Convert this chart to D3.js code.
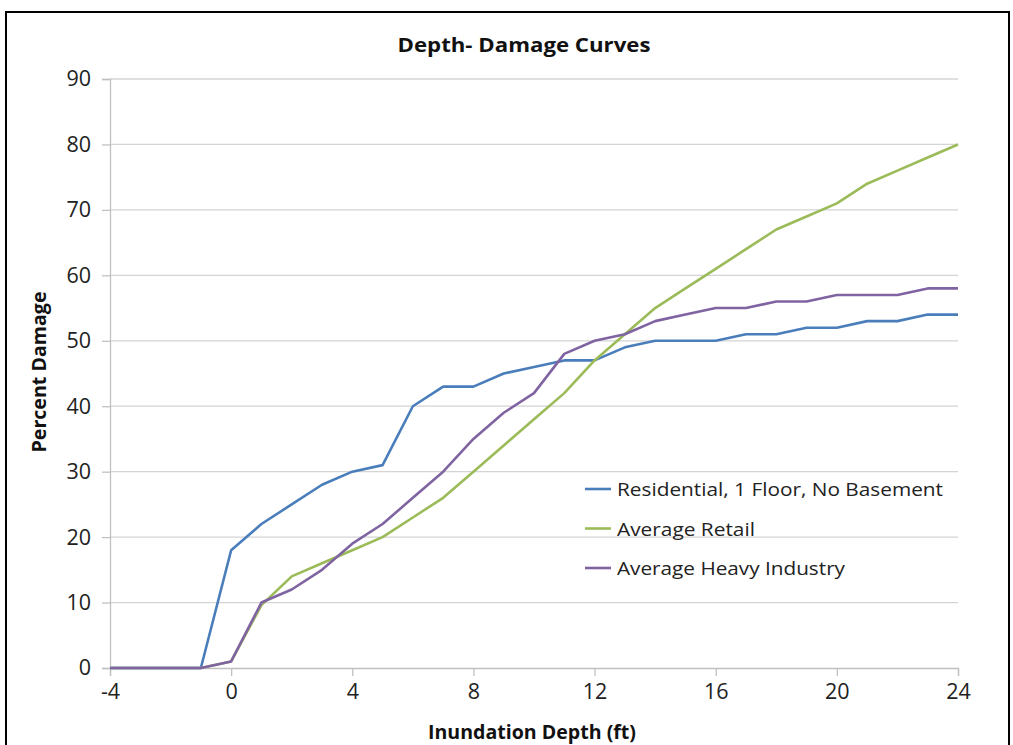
<!DOCTYPE html>
<html><head><meta charset="utf-8">
<script src="https://cdn.jsdelivr.net/npm/d3@7"></script>
<style>html,body{margin:0;padding:0;background:#fff;}svg{display:block;}</style>
</head><body>
<script>
const depths = d3.range(-4, 25);
const residential = [0,0,0,0,18,22,25,28,30,31,40,43,43,45,46,47,47,49,50,50,50,51,51,52,52,53,53,54,54];
const retail      = [0,0,0,0,1,9.6,14,16,18,20,23,26,30,34,38,42,47,51,55,58,61,64,67,69,71,74,76,78,80];
const industry    = [0,0,0,0,1,10,12,15,19,22,26,30,35,39,42,48,50,51,53,54,55,55,56,56,57,57,57,58,58];
const seriesNames = ["Residential, 1 Floor, No Basement","Average Retail","Average Heavy Industry"];
const seriesColors = ["#4a7ebb","#9bbb59","#8064a2"];
const xTicks = [-4,0,4,8,12,16,20,24];
const yTicks = [0,10,20,30,40,50,60,70,80,90];
const title = "Depth- Damage Curves";
const xTitle = "Inundation Depth (ft)";
const yTitle = "Percent Damage";

const W = 1013, H = 745;
const svg = d3.select("body").append("svg").attr("width", W).attr("height", H);
svg.append("rect").attr("x",6).attr("y",12).attr("width",1003).attr("height",760)
  .attr("fill","#fff").attr("stroke","#000").attr("stroke-width",2);

const x = d3.scaleLinear().domain([-4,24]).range([110,958]);
const y = d3.scaleLinear().domain([0,90]).range([668,79]);
const font = "'Open Sans', sans-serif";

// gridlines
svg.append("g").selectAll("line").data(yTicks.filter(d=>d>0)).join("line")
  .attr("x1",110).attr("x2",958).attr("y1",d=>y(d)).attr("y2",d=>y(d))
  .attr("stroke","#d4d4d4").attr("stroke-width",1.3);

// y axis
const ya = svg.append("g").attr("transform","translate(110,0)")
  .call(d3.axisLeft(y).tickValues(yTicks).tickSize(8).tickPadding(11));
ya.select(".domain").attr("stroke","#c0c0c0").attr("stroke-width",1.3);
ya.selectAll(".tick line").attr("stroke","#c0c0c0").attr("stroke-width",1.3);
ya.selectAll("text").attr("font-family",font).attr("font-size",21.5).attr("fill","#222");

// x axis
const xa = svg.append("g").attr("transform","translate(0,668)")
  .call(d3.axisBottom(x).tickValues(xTicks).tickSize(8).tickPadding(8).tickFormat(d=>String(d)));
xa.select(".domain").attr("stroke","#c0c0c0").attr("stroke-width",1.3);
xa.selectAll(".tick line").attr("stroke","#c0c0c0").attr("stroke-width",1.3);
xa.selectAll("text").attr("font-family",font).attr("font-size",21.5).attr("fill","#222");

// lines
const all = [residential, retail, industry];
const line = d3.line().x((d,i)=>x(depths[i])).y(d=>y(d));
all.forEach((s,k)=>{
  svg.append("path").datum(s).attr("d",line).attr("fill","none")
    .attr("stroke",seriesColors[k]).attr("stroke-width",2.6).attr("stroke-linejoin","round");
});

// titles
svg.append("text").attr("x",524).attr("y",52).attr("text-anchor","middle")
  .attr("font-family",font).attr("font-weight","bold").attr("font-size",19).attr("fill","#111")
  .attr("textLength",253).attr("lengthAdjust","spacingAndGlyphs").text(title);
svg.append("text").attr("x",532).attr("y",739).attr("text-anchor","middle")
  .attr("font-family",font).attr("font-weight","bold").attr("font-size",19).attr("fill","#111")
  .attr("textLength",208).attr("lengthAdjust","spacingAndGlyphs").text(xTitle);
svg.append("text").attr("transform","translate(46,372) rotate(-90)").attr("text-anchor","middle")
  .attr("font-family",font).attr("font-weight","bold").attr("font-size",19).attr("fill","#111")
  .attr("textLength",161).attr("lengthAdjust","spacingAndGlyphs").text(yTitle);

// legend
const lg = svg.append("g");
const legW = [326, 138, 228];
seriesNames.forEach((n,k)=>{
  const yy = 489 + k*39.5;
  lg.append("line").attr("x1",585).attr("x2",611).attr("y1",yy).attr("y2",yy)
    .attr("stroke",seriesColors[k]).attr("stroke-width",2.6);
  lg.append("text").attr("x",617).attr("y",yy+7).attr("font-family",font)
    .attr("font-size",18.5).attr("fill","#222")
    .attr("textLength",legW[k]).attr("lengthAdjust","spacingAndGlyphs").text(n);
});
</script>
</body></html>
